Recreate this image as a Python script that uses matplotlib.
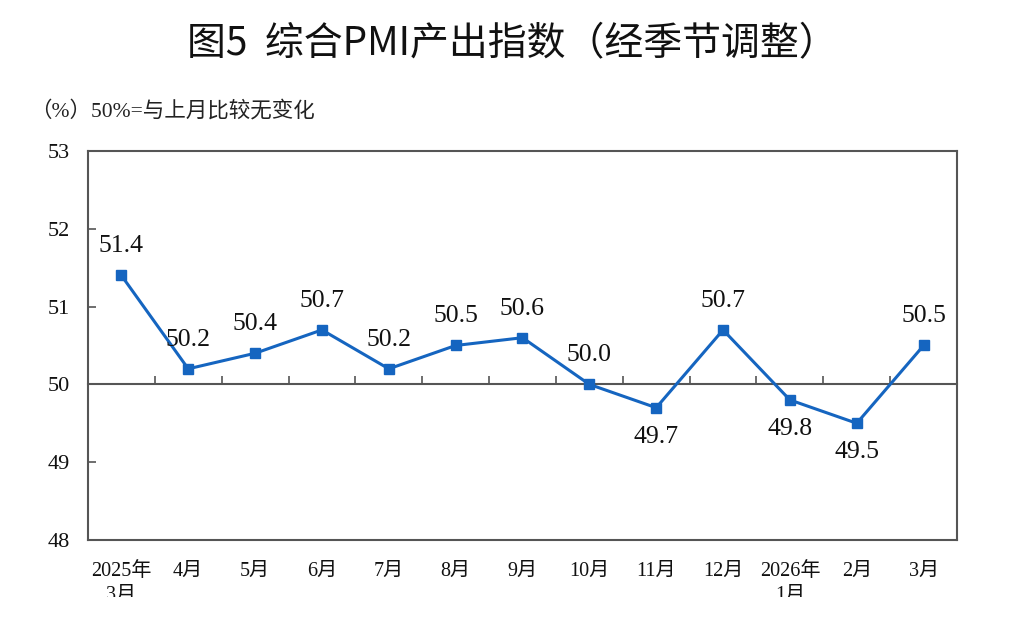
import matplotlib.pyplot as plt
import matplotlib.patches as mpatches
import numpy as np

# 数据
months = ["2025年\n3月", "4月", "5月", "6月", "7月", "8月", "9月",
          "10月", "11月", "12月", "2026年\n1月", "2月", "3月"]
pmi_output = [51.4, 50.2, 50.4, 50.7, 50.2, 50.5, 50.6,
              50.0, 49.7, 50.7, 49.8, 49.5, 50.5]
label_below = [False, False, False, False, False, False, False,
               False, True, False, True, True, False]

title = "图5  综合PMI产出指数（经季节调整）"
subtitle = "（%）50%=与上月比较无变化"
y_min, y_max, baseline = 48, 53, 50

serif_cjk = ["Liberation Serif", "Noto Sans CJK SC"]
sans_cjk = ["Noto Sans CJK SC", "Liberation Serif"]
line_color = "#1565c0"
axis_color = "#555555"

plt.rcParams["font.family"] = serif_cjk

fig = plt.figure(figsize=(10.24, 6.37), dpi=100)
ax = fig.add_axes([0.0859, 0.1523, 0.8487, 0.6107])

x = np.arange(len(months))
ax.plot(x, pmi_output, color=line_color, linewidth=2.2,
        marker="s", markersize=6.5, zorder=3)

for xi, v, below in zip(x, pmi_output, label_below):
    ax.annotate(f"{v:.1f}", (xi, v), xytext=(0, -21 if below else 21),
                textcoords="offset points", ha="center", va="center",
                fontsize=18.5, color="#111111")

ax.set_xlim(-0.5, len(months) - 0.5)
ax.set_ylim(y_min, y_max)
ax.set_yticks(range(y_min, y_max + 1))
ax.set_xticks(x)
ax.set_xticklabels(months, fontsize=14.5, linespacing=1.3)
ax.tick_params(axis="x", length=0, pad=16, colors="#111111")
ax.tick_params(axis="y", direction="in", length=6, width=1.2, pad=13,
               labelsize=16, colors=axis_color, labelcolor="#111111")

for sp in ax.spines.values():
    sp.set_color(axis_color)
    sp.set_linewidth(1.5)

# 50 基准线及分隔刻度
base = ax.secondary_xaxis((baseline - y_min) / (y_max - y_min))
base.set_xticks(x[1:] - 0.5)
base.tick_params(direction="in", length=6, width=1.2, colors=axis_color,
                 labelbottom=False)
base.spines["bottom"].set_color(axis_color)
base.spines["bottom"].set_linewidth(1.5)

fig.text(0.5, 0.93, title, ha="center", va="center", fontsize=28,
         family=sans_cjk, color="#111111")
fig.text(0.029, 0.826, subtitle, ha="left", va="center", fontsize=15.5,
         color="#222222")

# 原图底部被截断
fig.add_artist(mpatches.Rectangle((0, 0), 1, 0.063, transform=fig.transFigure,
                                  facecolor="white", edgecolor="none", zorder=10))

fig.savefig("out.png", dpi=100, facecolor="white")
